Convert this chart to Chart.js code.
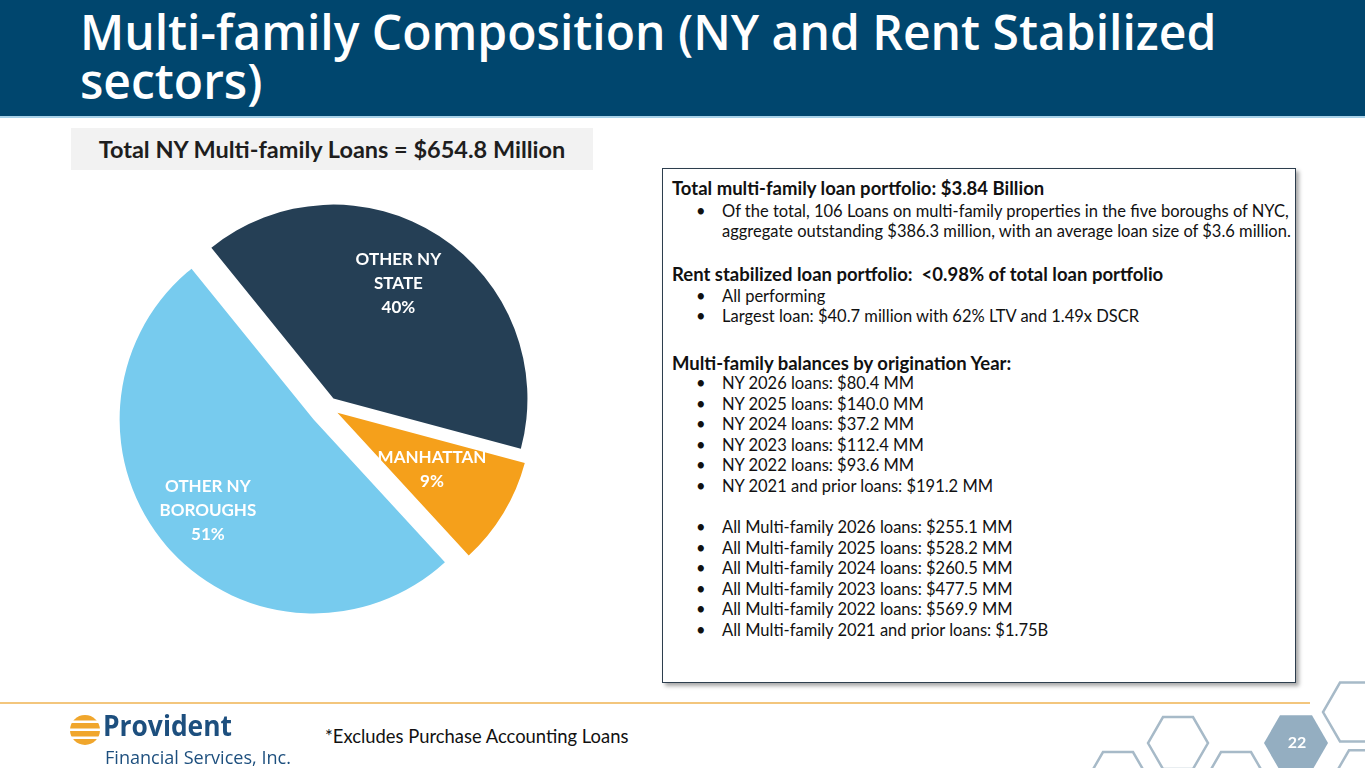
<!DOCTYPE html>
<html>
<head>
<meta charset="utf-8">
<script src="https://cdn.jsdelivr.net/npm/chart.js@4.4.1/dist/chart.umd.min.js"></script>
<style>
  body { margin: 0; width: 1365px; height: 768px; overflow: hidden; background: #fff; position: relative; font-family: Lato, "Open Sans", sans-serif; }
  .header { position: absolute; left: 0; top: 0; width: 1365px; height: 116px; background: #00466e; border-bottom: 2px solid #a9d3ea; }
  .title { position: absolute; left: 80px; width: 1250px; color: #fff; font-family: "Open Sans", sans-serif; font-weight: 600; font-size: 48px; line-height: 48px; white-space: nowrap; }
  .subtitle { position: absolute; left: 71px; top: 128px; width: 522px; height: 42px; background: #f2f2f2; color: #1e1e1e; font-weight: 700; font-size: 23.5px; line-height: 42px; text-align: center; }
  #pieBox { position: absolute; left: 118px; top: 197px; width: 420px; height: 420px; }
  .panel { position: absolute; left: 662px; top: 168px; width: 632px; height: 513px; border: 1.5px solid #2d3e4e; box-shadow: 3px 3px 4px rgba(0,0,0,0.35); background: #fff; color: #111; }
  .panel .h { position: absolute; left: 9px; font-weight: 700; font-size: 18.5px; line-height: 20px; white-space: nowrap; }
  .panel .b { position: absolute; left: 59px; font-size: 16.5px; line-height: 20px; white-space: nowrap; }
  .panel .b::before { content: "\2022"; position: absolute; left: -26px; }
  .panel .cont::before { content: none; }
  .rule { position: absolute; left: 0; top: 702px; width: 1310px; height: 2px; background: #f3c67d; }
  .note { position: absolute; left: 325px; top: 725px; font-size: 18.4px; color: #111; }
  svg { position: absolute; left: 0; top: 0; }
</style>
</head>
<body>
<div class="header">
  <div class="title" style="top: 8px">Multi-family Composition (NY and Rent Stabilized</div>
  <div class="title" style="top: 57px">sectors)</div>
</div>
<div class="subtitle">Total NY Multi-family Loans = $654.8 Million</div>
<div id="pieBox"><canvas id="pie"></canvas></div>
<div class="panel" id="panel"></div>
<div class="rule"></div>
<div class="note">*Excludes Purchase Accounting Loans</div>

<svg width="1365" height="768" style="pointer-events:none">
  <defs>
    <clipPath id="bee"><circle cx="85" cy="730" r="15"/></clipPath>
  </defs>
  <g clip-path="url(#bee)" fill="#f0a62c">
    <rect x="68" y="715" width="34" height="5.5"/>
    <rect x="68" y="723" width="34" height="5.5"/>
    <rect x="68" y="731" width="34" height="5.5"/>
    <rect x="68" y="739" width="34" height="6"/>
  </g>
  <text x="103" y="736" font-family="Open Sans" font-weight="700" font-size="28" fill="#1d4f7e" textLength="129" lengthAdjust="spacingAndGlyphs">Provident</text>
  <text x="105" y="763.5" font-family="Open Sans" font-weight="400" font-size="18.5" fill="#1d4f7e" textLength="186" lengthAdjust="spacingAndGlyphs">Financial Services, Inc.</text>

  <g fill="none" stroke="#a7bac8" stroke-width="2.5">
    <polygon id="hexA"/>
    <polygon id="hexC"/>
    <polygon id="hexD"/>
    <polygon id="hexE"/>
    <polygon id="hexF"/>
  </g>
  <polygon id="hexB" fill="#94aec1"/>
  <text x="1297" y="748" text-anchor="middle" font-family="Lato" font-weight="700" font-size="16" fill="#fff">22</text>
</svg>

<script>
// pie data (share of NY multi-family loans, %)
const categories = [["OTHER NY", "STATE"], ["MANHATTAN"], ["OTHER NY", "BOROUGHS"]]
const shares = [40, 9, 51]
const colors = ["#253f55", "#f5a01b", "#77cbee"]

// text panel: kind (h = heading, b = bullet, c = continued line), text, top offset
const panelLines = [
  ["h", "Total multi-family loan portfolio: $3.84 Billion", 9],
  ["b", "Of the total, 106 Loans on multi-family properties in the five boroughs of NYC,", 32],
  ["c", "aggregate outstanding $386.3 million, with an average loan size of $3.6 million.", 52],
  ["h", "Rent stabilized loan portfolio:&nbsp; &lt;0.98% of total loan portfolio", 95],
  ["b", "All performing", 117],
  ["b", "Largest loan: $40.7 million with 62% LTV and 1.49x DSCR", 137],
  ["h", "Multi-family balances by origination Year:", 184],
  ["b", "NY 2026 loans: $80.4 MM", 204],
  ["b", "NY 2025 loans: $140.0 MM", 224.5],
  ["b", "NY 2024 loans: $37.2 MM", 245],
  ["b", "NY 2023 loans: $112.4 MM", 265.5],
  ["b", "NY 2022 loans: $93.6 MM", 286],
  ["b", "NY 2021 and prior loans: $191.2 MM", 306.5],
  ["b", "All Multi-family 2026 loans: $255.1 MM", 348],
  ["b", "All Multi-family 2025 loans: $528.2 MM", 368.5],
  ["b", "All Multi-family 2024 loans: $260.5 MM", 389],
  ["b", "All Multi-family 2023 loans: $477.5 MM", 409.5],
  ["b", "All Multi-family 2022 loans: $569.9 MM", 430],
  ["b", "All Multi-family 2021 and prior loans: $1.75B", 450.5]
]

const panel = document.getElementById("panel")
panelLines.forEach(([kind, text, top]) => {
  const d = document.createElement("div")
  d.className = kind === "c" ? "b cont" : kind
  d.innerHTML = text
  d.style.top = top + "px"
  panel.appendChild(d)
})

// hexagon outlines in the footer
function hex(id, cx, cy, s) {
  const h = s * 0.866
  const pts = [[cx - s, cy], [cx - s / 2, cy - h], [cx + s / 2, cy - h], [cx + s, cy], [cx + s / 2, cy + h], [cx - s / 2, cy + h]]
  document.getElementById(id).setAttribute("points", pts.map(p => p.join(",")).join(" "))
}
hex("hexA", 1178, 743, 30)
hex("hexB", 1296, 743, 32)
hex("hexC", 1357, 712, 34)
hex("hexD", 1365, 778, 32)
hex("hexE", 1118, 778, 30)
hex("hexF", 1236, 778, 30)

// how far each slice is pulled out, and where its label sits (fraction of radius, angle nudge in degrees)
const pull = [10, 11, 19]
const labelDepth = [0.68, 0.57, 0.72]
const labelTurn = [-3.5, 0, 0]

const explode = {
  id: "explode",
  afterDatasetUpdate(chart, args) {
    args.meta.data.forEach((arc, i) => {
      const mid = (arc.startAngle + arc.endAngle) / 2
      arc.x += Math.cos(mid) * pull[i]
      arc.y += Math.sin(mid) * pull[i]
    })
  }
}

const sliceLabels = {
  id: "sliceLabels",
  afterDatasetsDraw(chart) {
    const ctx = chart.ctx
    const meta = chart.getDatasetMeta(0)
    ctx.save()
    ctx.fillStyle = "#ffffff"
    ctx.font = "bold 17px Lato"
    ctx.textAlign = "center"
    ctx.textBaseline = "middle"
    meta.data.forEach((arc, i) => {
      const mid = (arc.startAngle + arc.endAngle) / 2 + labelTurn[i] * Math.PI / 180
      const r = arc.outerRadius * labelDepth[i]
      const x = arc.x + Math.cos(mid) * r
      const y = arc.y + Math.sin(mid) * r
      const lines = categories[i].concat(shares[i] + "%")
      lines.forEach((t, k) => {
        ctx.fillText(t, x, y + (k - (lines.length - 1) / 2) * 24)
      })
    })
    ctx.restore()
  }
}

new Chart(document.getElementById("pie"), {
  type: "pie",
  data: {
    labels: categories.map(c => c.join(" ")),
    datasets: [{
      data: shares,
      backgroundColor: colors,
      borderWidth: 0,
      radius: 194,
      rotation: -39
    }]
  },
  options: {
    responsive: true,
    maintainAspectRatio: false,
    animation: false,
    events: [],
    layout: { padding: 0 },
    plugins: {
      legend: { display: false },
      tooltip: { enabled: false }
    }
  },
  plugins: [explode, sliceLabels]
})
</script>
</body>
</html>
